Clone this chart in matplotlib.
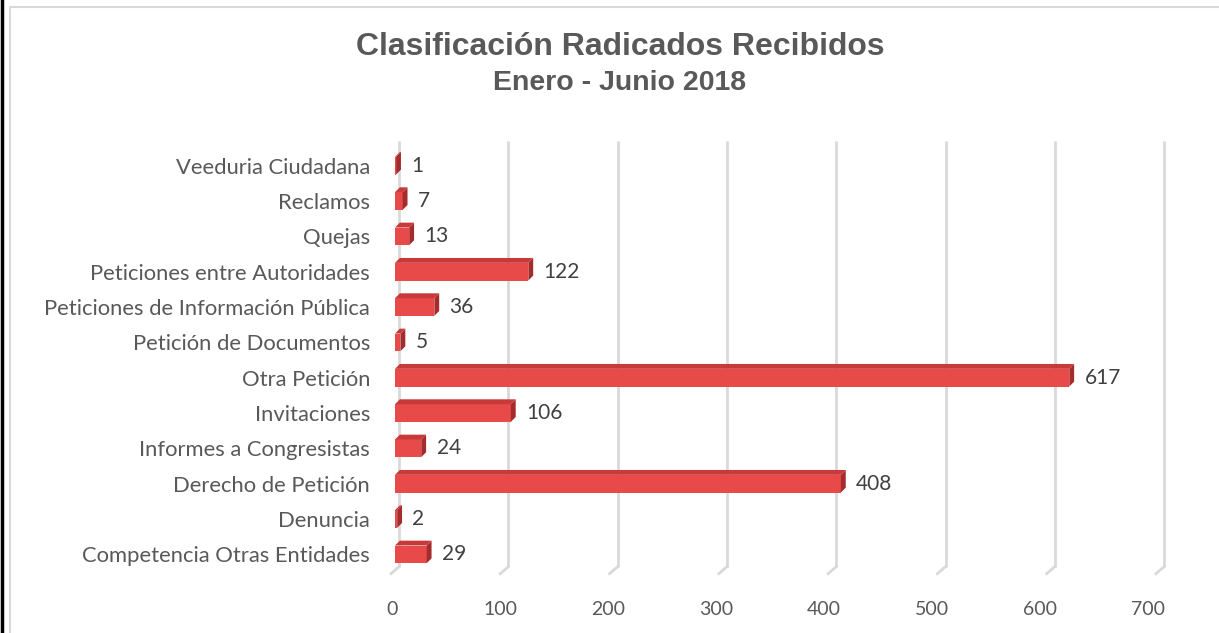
import numpy as np
import matplotlib.pyplot as plt
from matplotlib.patches import Polygon
import matplotlib.transforms as mtransforms

# Data
categories = ['Veeduria Ciudadana', 'Reclamos', 'Quejas', 'Peticiones entre Autoridades',
              'Peticiones de Información Pública', 'Petición de Documentos', 'Otra Petición',
              'Invitaciones', 'Informes a Congresistas', 'Derecho de Petición', 'Denuncia',
              'Competencia Otras Entidades']
values = [1, 7, 13, 122, 36, 5, 617, 106, 24, 408, 2, 29]
xticks = [0, 100, 200, 300, 400, 500, 600, 700]

front = '#e84a4a'
side = '#a52c2c'
top = '#c83a3a'
grid_c = '#d9d9d9'
txt = '#595959'

fig = plt.figure(figsize=(12.19, 6.33), dpi=100)
W, H = 1219, 633

# outer frame lines (black left edge, grey chart border)
fig.add_artist(plt.Line2D([1.5 / W, 1.5 / W], [0, 1], color='black', lw=2.5))
fig.add_artist(plt.Line2D([10 / W, 10 / W, 1], [0, 1 - 7 / H, 1 - 7 / H], color=grid_c, lw=1.5))

ax = fig.add_axes([395 / W, 1 - 572 / H, (1160 - 395) / W, (572 - 148) / H])
n = len(categories)
y = np.arange(n)[::-1]
h = 0.5

ax.set_xlim(0, 700)
ax.set_ylim(-0.5, n - 0.5)

# back-wall gridlines shifted slightly right, with short floor diagonals
shift = mtransforms.ScaledTranslation(3 / 72, 0, fig.dpi_scale_trans)
inv = ax.transData.inverted()
for t in xticks:
    ax.plot([t, t], [-0.35, n - 0.3], color=grid_c, lw=2, transform=ax.transData + shift,
            solid_capstyle='butt', zorder=0, clip_on=False)
    x0, y0 = ax.transData.transform((t, -0.35))
    p1 = inv.transform((x0 + 4, y0))
    p2 = inv.transform((x0 - 4, y0 - 7))
    ax.plot([p1[0], p2[0]], [p1[1], p2[1]], color=grid_c, lw=2, zorder=0, clip_on=False)

# 3D-looking bars
ax.barh(y, values, height=h, color=front, zorder=3)
d = 3.5 * fig.dpi / 72
for yi, v in zip(y, values):
    x_l, y_b = ax.transData.transform((0, yi - h / 2))
    x_r, y_t = ax.transData.transform((v, yi + h / 2))
    side_pts = inv.transform([(x_r, y_b), (x_r, y_t), (x_r + d, y_t + d), (x_r + d, y_b + d)])
    top_pts = inv.transform([(x_l, y_t), (x_r, y_t), (x_r + d, y_t + d), (x_l + d, y_t + d)])
    ax.add_patch(Polygon(side_pts, closed=True, color=side, zorder=4, lw=0))
    ax.add_patch(Polygon(top_pts, closed=True, color=top, zorder=4, lw=0))
    ax.annotate(str(v), (v, yi), xytext=(11, 0), textcoords='offset points',
                va='center', ha='left', fontsize=15, color='#404040', family='Lato')

ax.set_yticks(y)
ax.set_yticklabels(categories, fontsize=15.8, color=txt, family='Lato')
ax.set_xticks(xticks)
ax.set_xticklabels([str(t) for t in xticks], fontsize=14, color=txt, family='Lato')
ax.tick_params(axis='both', length=0)
ax.tick_params(axis='x', pad=21)
ax.tick_params(axis='y', pad=18)
# floor labels sit slightly left of the back-wall grid (perspective)
for i, lab in enumerate(ax.get_xticklabels()):
    lab.set_transform(lab.get_transform() + mtransforms.ScaledTranslation(-(2 + i * 0.95) / 72, 0, fig.dpi_scale_trans))
for s in ax.spines.values():
    s.set_visible(False)
ax.set_facecolor('none')

fig.text(620 / W, 1 - 47 / H, 'Clasificación Radicados Recibidos', ha='center', va='center',
         fontsize=23, fontweight='bold', color=txt, family='Liberation Sans')
fig.text(620 / W, 1 - 83 / H, 'Enero - Junio 2018', ha='center', va='center',
         fontsize=20.5, fontweight='bold', color=txt, family='Liberation Sans')

fig.savefig('out.png', dpi=100)
